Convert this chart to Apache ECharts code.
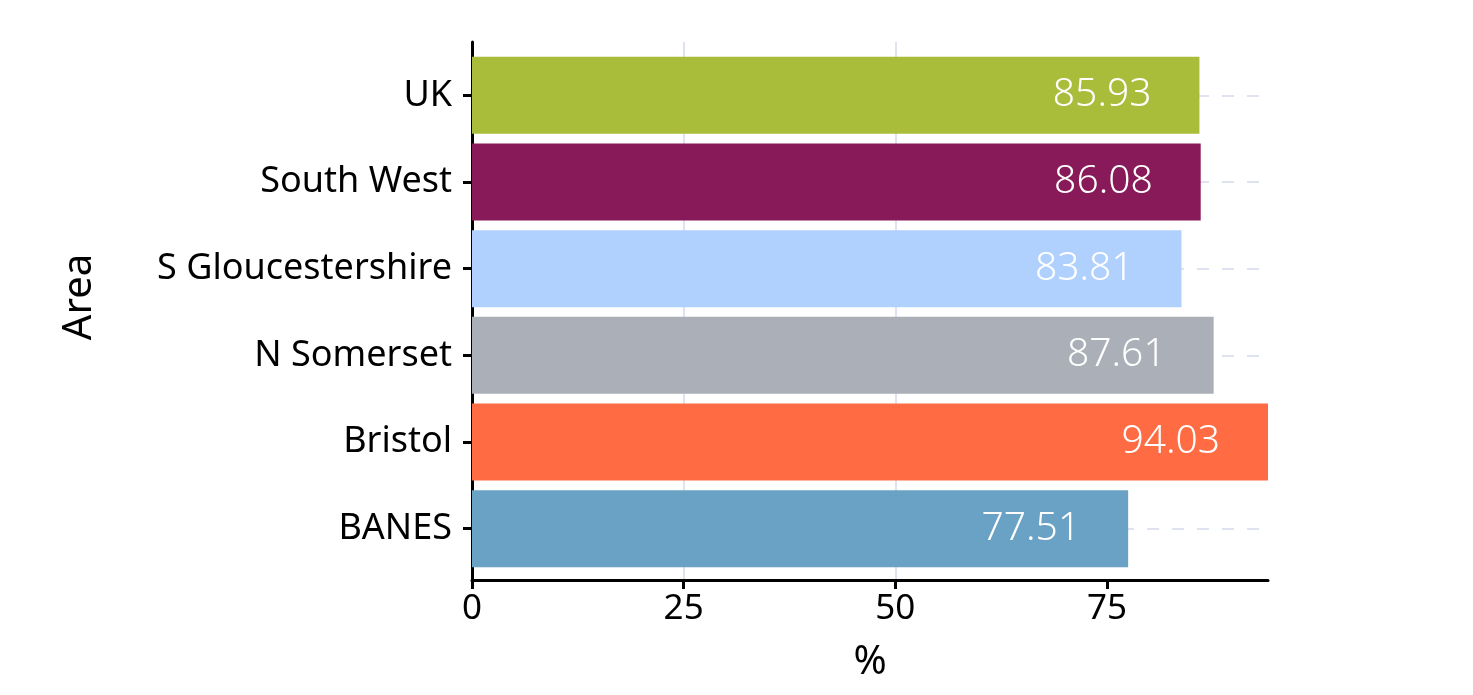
<!DOCTYPE html>
<html>
<head>
<meta charset="utf-8">
<script src="https://cdn.jsdelivr.net/npm/echarts@6/dist/echarts.min.js"></script>
<style>
html,body{margin:0;padding:0;background:#fff;}
#chart{width:1473px;height:695px;}
</style>
</head>
<body>
<div id="chart"></div>
<script>
const categories = ['BANES', 'Bristol', 'N Somerset', 'S Gloucestershire', 'South West', 'UK'];
const values = [77.51, 94.03, 87.61, 83.81, 86.08, 85.93];
const colors = ['#69a2c4', '#ff6c43', '#abb0b8', '#b0d0fe', '#891a59', '#a9bd3b'];
const xTicks = [0, 25, 50, 75];
const xMax = 94.03;

const FONT = 'Noto Sans';
const chart = echarts.init(document.getElementById('chart'));
chart.setOption({
  animation: false,
  backgroundColor: '#ffffff',
  grid: [
    { left: 472, right: 205, top: 42, bottom: 115 },
    { left: 472, right: 205, top: 52, height: 520 }
  ],
  xAxis: [
    {
      gridIndex: 0, type: 'value', min: 0, max: xMax, interval: 25,
      axisLine: { show: true, lineStyle: { color: '#000', width: 3 } },
      axisTick: { show: true, length: 9, customValues: xTicks, lineStyle: { color: '#000', width: 3 } },
      axisLabel: { customValues: xTicks, fontSize: 35, color: '#000', margin: 12, fontFamily: FONT },
      splitLine: { show: true, showMaxLine: false, lineStyle: { color: '#dfe3ef', width: 2 } },
      name: '%', nameLocation: 'middle', nameGap: 63,
      nameTextStyle: { fontSize: 40, color: '#000', fontFamily: FONT }
    },
    { gridIndex: 1, type: 'value', min: 0, max: xMax, show: false }
  ],
  yAxis: [
    {
      gridIndex: 0, type: 'value', min: 0, max: 1,
      axisLine: { show: true, lineStyle: { color: '#000', width: 3 } },
      axisTick: { show: false }, axisLabel: { show: false }, splitLine: { show: false },
      name: 'Area', nameLocation: 'middle', nameGap: 372, nameRotate: 90,
      nameTextStyle: { fontSize: 40, color: '#000', fontFamily: FONT, padding: [0, 0, 0, 28] }
    },
    {
      gridIndex: 1, type: 'category', data: categories,
      axisLine: { show: false },
      axisTick: { show: true, alignWithLabel: true, length: 9, lineStyle: { color: '#000', width: 3 } },
      axisLabel: { fontSize: 36, color: '#000', margin: 20, fontFamily: FONT },
      splitLine: { show: true, alignWithLabel: true, lineStyle: { color: '#dfe3ef', width: 2, type: [12, 13] } }
    }
  ],
  series: [
    {
      type: 'bar', xAxisIndex: 1, yAxisIndex: 1,
      barWidth: 77,
      data: values.map((v, i) => ({ value: v, itemStyle: { color: colors[i] } })),
      label: {
        show: true, position: 'insideRight', distance: 48,
        color: '#fff', fontSize: 39, fontFamily: FONT, fontWeight: 300
      }
    }
  ]
});
</script>
</body>
</html>
